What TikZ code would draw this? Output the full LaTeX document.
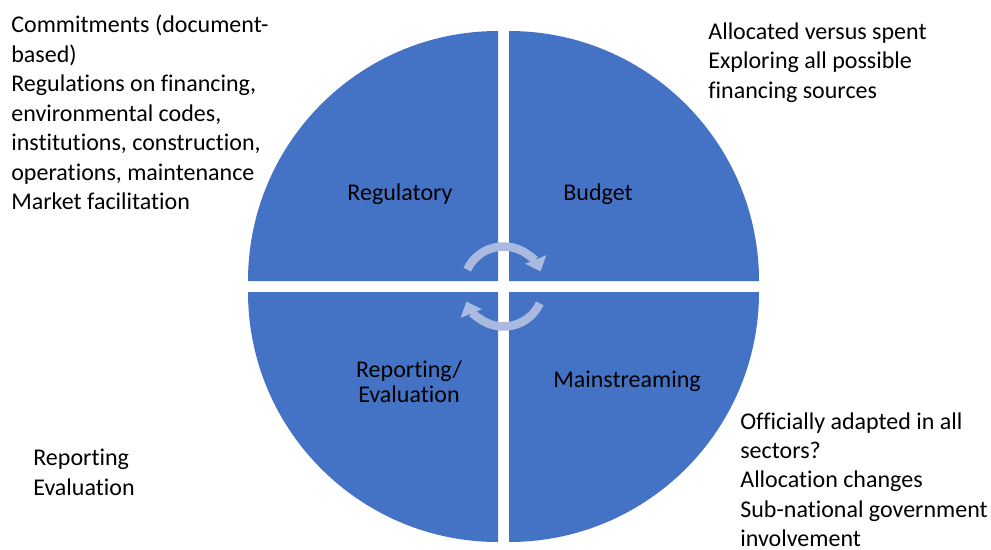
\documentclass[tikz,border=0pt]{standalone}
\usepackage{fontspec}
\setmainfont{Carlito}[Ligatures=NoCommon]
\usetikzlibrary{arrows.meta}
\definecolor{quadblue}{HTML}{4472C4}
\definecolor{cyclelight}{HTML}{A9B9DF}
\tikzset{
  quad/.style={fill=quadblue},
  note/.style={align=left, anchor=north west, inner sep=0pt, font=\fontsize{13.66}{16.75}\selectfont},
  qlabel/.style={align=center, inner sep=0pt, font=\fontsize{13.66}{14.2}\selectfont},
  cyclearrow/.style={draw=cyclelight, line width=0.17cm, -{Triangle[width=0.44cm,length=0.26cm]}}
}
\begin{document}
\begin{tikzpicture}[x=0.02cm,y=0.02cm]
\useasboundingbox (0,0) rectangle (991,549);
\coordinate (c) at (503.5,262.5);
% four quarters
\fill[quad] (498,268)--(248,268) arc (180:90:250)--cycle;
\fill[quad] (509,268)--(509,518) arc (90:0:250)--cycle;
\fill[quad] (498,257)--(498,7) arc (270:180:250)--cycle;
\fill[quad] (509,257)--(759,257) arc (0:-90:250)--cycle;
% cycle arrows
\draw[cyclearrow] ([shift={(155:40)}]c) arc (155:22:40);
\draw[cyclearrow] ([shift={(335:40)}]c) arc (335:202:40);
% quarter labels
\node[qlabel, anchor=base] (regulatory) at (400,349) {Regulatory};
\node[qlabel, anchor=base] (budget) at (598,349) {Budget};
\node[qlabel] (reporting) at (409,167) {Reporting/\\Evaluation};
\node[qlabel, anchor=base] (mainstreaming) at (627,162) {Mainstreaming};
% notes
\node[note] (regnote) at (11,534) {Commitments (document-\\based)\\Regulations on financing,\\environmental codes,\\institutions, construction,\\operations, maintenance\\Market facilitation};
\node[note] (budnote) at (708,526.5) {Allocated versus spent\\Exploring all possible\\financing sources};
\node[note] (mainnote) at (740,137) {Officially adapted in all\\sectors?\\Allocation changes\\Sub-national government\\involvement};
\node[note] (repnote) at (33,100) {Reporting\\Evaluation};
\end{tikzpicture}
\end{document}
